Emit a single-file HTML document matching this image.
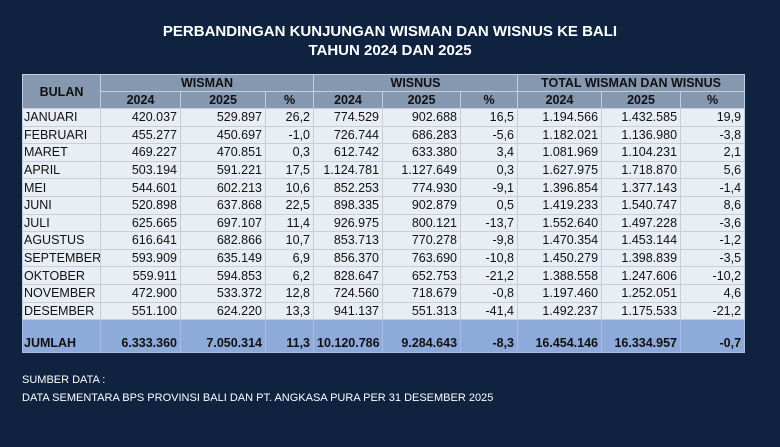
<!DOCTYPE html>
<html><head><style>
body{margin:0;width:780px;height:447px;background:#0f2341;font-family:"Liberation Sans",sans-serif;overflow:hidden;position:relative}
.t{position:absolute;left:0;width:780px;text-align:center;color:#fff;font-weight:bold;font-size:15px;line-height:19px}
table{position:absolute;left:22px;top:74px;border-collapse:collapse;width:722px;font-size:12.5px;table-layout:fixed}
td,th{padding:0 3px;border:1px solid #c5cede;white-space:nowrap;overflow:hidden}
th{background:#8697b0;color:#111;font-size:12.5px;height:16px}
td{background:#e9edf4;height:16.6px;text-align:right;color:#111}
td:first-child{text-align:left;padding-left:1px}
tr.j td{background:#8eaadb;font-weight:bold;height:30px;vertical-align:bottom;padding-bottom:2px;border-color:#a9bde3}
.s{position:absolute;left:22px;color:#fff;font-size:11px}
</style></head><body>
<div class="t" style="top:22px">PERBANDINGAN KUNJUNGAN WISMAN DAN WISNUS KE BALI</div>
<div class="t" style="top:41px">TAHUN 2024 DAN 2025</div>
<table>
<colgroup><col style="width:78px"><col style="width:80px"><col style="width:85px"><col style="width:48px"><col style="width:69px"><col style="width:78px"><col style="width:57px"><col style="width:84px"><col style="width:79px"><col style="width:64px"></colgroup>
<tr><th rowspan="2">BULAN</th><th colspan="3">WISMAN</th><th colspan="3">WISNUS</th><th colspan="3">TOTAL WISMAN DAN WISNUS</th></tr>
<tr><th>2024</th><th>2025</th><th>%</th><th>2024</th><th>2025</th><th>%</th><th>2024</th><th>2025</th><th>%</th></tr>
<tr><td>JANUARI</td><td>420.037</td><td>529.897</td><td>26,2</td><td>774.529</td><td>902.688</td><td>16,5</td><td>1.194.566</td><td>1.432.585</td><td>19,9</td></tr>
<tr><td>FEBRUARI</td><td>455.277</td><td>450.697</td><td>-1,0</td><td>726.744</td><td>686.283</td><td>-5,6</td><td>1.182.021</td><td>1.136.980</td><td>-3,8</td></tr>
<tr><td>MARET</td><td>469.227</td><td>470.851</td><td>0,3</td><td>612.742</td><td>633.380</td><td>3,4</td><td>1.081.969</td><td>1.104.231</td><td>2,1</td></tr>
<tr><td>APRIL</td><td>503.194</td><td>591.221</td><td>17,5</td><td>1.124.781</td><td>1.127.649</td><td>0,3</td><td>1.627.975</td><td>1.718.870</td><td>5,6</td></tr>
<tr><td>MEI</td><td>544.601</td><td>602.213</td><td>10,6</td><td>852.253</td><td>774.930</td><td>-9,1</td><td>1.396.854</td><td>1.377.143</td><td>-1,4</td></tr>
<tr><td>JUNI</td><td>520.898</td><td>637.868</td><td>22,5</td><td>898.335</td><td>902.879</td><td>0,5</td><td>1.419.233</td><td>1.540.747</td><td>8,6</td></tr>
<tr><td>JULI</td><td>625.665</td><td>697.107</td><td>11,4</td><td>926.975</td><td>800.121</td><td>-13,7</td><td>1.552.640</td><td>1.497.228</td><td>-3,6</td></tr>
<tr><td>AGUSTUS</td><td>616.641</td><td>682.866</td><td>10,7</td><td>853.713</td><td>770.278</td><td>-9,8</td><td>1.470.354</td><td>1.453.144</td><td>-1,2</td></tr>
<tr><td>SEPTEMBER</td><td>593.909</td><td>635.149</td><td>6,9</td><td>856.370</td><td>763.690</td><td>-10,8</td><td>1.450.279</td><td>1.398.839</td><td>-3,5</td></tr>
<tr><td>OKTOBER</td><td>559.911</td><td>594.853</td><td>6,2</td><td>828.647</td><td>652.753</td><td>-21,2</td><td>1.388.558</td><td>1.247.606</td><td>-10,2</td></tr>
<tr><td>NOVEMBER</td><td>472.900</td><td>533.372</td><td>12,8</td><td>724.560</td><td>718.679</td><td>-0,8</td><td>1.197.460</td><td>1.252.051</td><td>4,6</td></tr>
<tr><td>DESEMBER</td><td>551.100</td><td>624.220</td><td>13,3</td><td>941.137</td><td>551.313</td><td>-41,4</td><td>1.492.237</td><td>1.175.533</td><td>-21,2</td></tr>
<tr class="j"><td>JUMLAH</td><td>6.333.360</td><td>7.050.314</td><td>11,3</td><td>10.120.786</td><td>9.284.643</td><td>-8,3</td><td>16.454.146</td><td>16.334.957</td><td>-0,7</td></tr>
</table>
<div class="s" style="top:374px">SUMBER DATA :</div>
<div class="s" style="top:392px">DATA SEMENTARA BPS PROVINSI BALI DAN PT. ANGKASA PURA PER 31 DESEMBER 2025</div>
</body></html>
